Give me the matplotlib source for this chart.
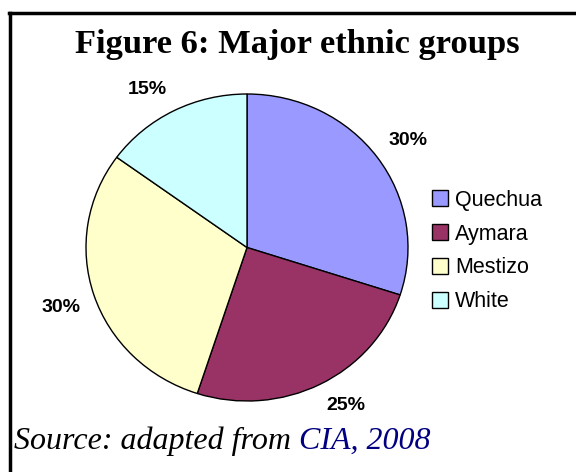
import matplotlib
matplotlib.use("Agg")
import numpy as np
import matplotlib.pyplot as plt
from matplotlib.lines import Line2D

# data
groups = ["Quechua", "Aymara", "Mestizo", "White"]
shares = [30, 25, 30, 15]
colors = ["#9999FF", "#993366", "#FFFFCC", "#CCFFFF"]

W, H = 576, 472
fig = plt.figure(figsize=(W / 100, H / 100), dpi=100)
fig.patch.set_facecolor("white")

# frame around the figure (top and left only are visible)
fig.add_artist(Line2D([10 / W, 10 / W], [0, 1 - 13 / H], color="black", lw=2.5,
                      transform=fig.transFigure))
fig.add_artist(Line2D([9 / W, 1], [1 - 13 / H, 1 - 13 / H], color="black", lw=2.5,
                      transform=fig.transFigure))

# pie axes (slightly elliptical like the excel original)
ax = fig.add_axes([86 / W, (H - 401) / H, 322 / W, 307 / H])
wedges, texts = ax.pie(shares, colors=colors, startangle=90, counterclock=False,
                       wedgeprops=dict(edgecolor="black", linewidth=1.0))
ax.set_aspect("auto")
ax.set_xlim(-1, 1)
ax.set_ylim(-1, 1)

# percentage labels just outside each wedge, excel style
for w, v in zip(wedges, shares):
    mid = np.deg2rad((w.theta1 + w.theta2) / 2)
    x, y = 1.09 * np.cos(mid), 1.09 * np.sin(mid)
    ha = "left" if x > 0 else "right"
    va = "bottom" if y > 0 else "top"
    ax.text(x, y, "%d%%" % v, ha=ha, va=va, family="Liberation Sans",
            fontsize=14, fontweight="bold", clip_on=False)

fig.text(297 / W, 1 - 44 / H, "Figure 6: Major ethnic groups", ha="center", va="center",
         family="Liberation Serif", fontweight="bold", fontsize=24.8)

leg = fig.legend(wedges, groups, loc="center left", bbox_to_anchor=(432 / W, 1 - 251 / H),
                 frameon=False, prop=dict(family="Liberation Sans", size=15.5),
                 borderpad=0, borderaxespad=0,
                 handlelength=0.75, handleheight=0.75, handletextpad=0.33, labelspacing=0.6)

src = fig.text(14 / W, 1 - 441 / H, "Source: adapted from ", ha="left", va="center",
               family="Liberation Serif", style="italic", fontsize=23)
fig.canvas.draw()
bb = src.get_window_extent()
fig.text(bb.x1 / W, 1 - 441 / H, "CIA, 2008", ha="left", va="center",
         family="Liberation Serif", style="italic", fontsize=23, color="#000080")

fig.savefig("out.png", dpi=100)
